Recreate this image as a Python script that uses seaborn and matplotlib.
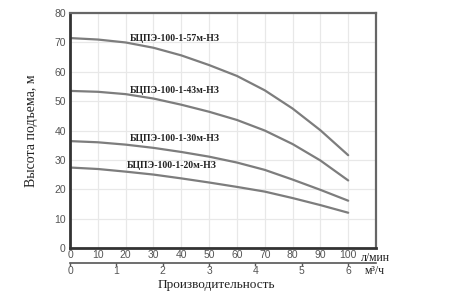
import numpy as np
import matplotlib
matplotlib.use("Agg")
import matplotlib.pyplot as plt
import seaborn as sns
import pandas as pd

# подача, л/мин
q = [0, 10, 20, 30, 40, 50, 60, 70, 80, 90, 100]
h57 = [71.5, 71.0, 70.0, 68.2, 65.6, 62.3, 58.6, 53.7, 47.5, 40.1, 31.6]
h43 = [53.5, 53.2, 52.4, 50.9, 48.8, 46.4, 43.6, 40.0, 35.4, 29.8, 23.0]
h30 = [36.4, 36.0, 35.2, 34.1, 32.7, 31.1, 29.1, 26.6, 23.3, 19.8, 16.1]
h20 = [27.4, 26.9, 26.0, 25.0, 23.7, 22.3, 20.8, 19.2, 17.0, 14.6, 12.0]

names = ["БЦПЭ-100-1-57м-НЗ", "БЦПЭ-100-1-43м-НЗ", "БЦПЭ-100-1-30м-НЗ", "БЦПЭ-100-1-20м-НЗ"]
label_x = [37.5, 37.5, 37.5, 36.5]
label_y = [71.4, 53.7, 37.4, 28.2]

xticks = [0, 10, 20, 30, 40, 50, 60, 70, 80, 90, 100]
yticks = [0, 10, 20, 30, 40, 50, 60, 70, 80]
m3_ticks = [0, 1, 2, 3, 4, 5, 6]

sns.set_style("white")
plt.rcParams['font.family'] = ['Liberation Sans', 'DejaVu Sans']

fig = plt.figure(figsize=(4.5, 3.05), dpi=100)
ax = fig.add_axes([0.1556, 0.187, 0.68, 0.770])

for h in [h57, h43, h30, h20]:
    df = pd.DataFrame({"q": q, "h": h})
    sns.lineplot(data=df, x="q", y="h", ax=ax, color="#7d7d7d", linewidth=1.6)

for n, lx, ly in zip(names, label_x, label_y):
    ax.text(lx, ly, n, ha="center", va="center", fontsize=7,
            fontweight="bold", family="Liberation Serif", color="#222222")

ax.set_xlim(0, 110)
ax.set_ylim(0, 80)
ax.set_xticks(xticks)
ax.set_yticks(yticks)
ax.grid(True, color="#e8e8e8", linewidth=0.9)
ax.tick_params(axis="both", length=0, labelsize=7.5, labelcolor="#555555", pad=1.5)
ax.tick_params(axis="y", pad=3)
ax.set_xlabel("")
ax.set_ylabel("Высота подъема, м", family="Liberation Serif", fontsize=10,
              color="#222222", labelpad=12)

for s in ["left", "bottom"]:
    ax.spines[s].set_linewidth(2)
    ax.spines[s].set_color("#333333")
for s in ["top", "right"]:
    ax.spines[s].set_linewidth(1.6)
    ax.spines[s].set_color("#666666")

sec = ax.secondary_xaxis(-0.062, functions=(lambda x: x * 0.06, lambda m: m / 0.06))
sec.set_xticks(m3_ticks)
sec.spines["bottom"].set_color("#555555")
sec.spines["bottom"].set_linewidth(1.2)
sec.tick_params(axis="x", length=2.5, width=1, color="#555555", labelsize=7.5,
                labelcolor="#555555", pad=0)

ax.text(0.952, -0.043, "л/мин", transform=ax.transAxes, ha="left", va="center",
        family="Liberation Serif", fontsize=8.5, color="#222222")
ax.text(0.962, -0.098, "м³/ч", transform=ax.transAxes, ha="left", va="center",
        family="Liberation Serif", fontsize=8.5, color="#222222")

fig.text(0.48, 0.066, "Производительность", ha="center", va="center",
         family="Liberation Serif", fontsize=9.5, color="#222222")

fig.savefig("out.png", dpi=100)
